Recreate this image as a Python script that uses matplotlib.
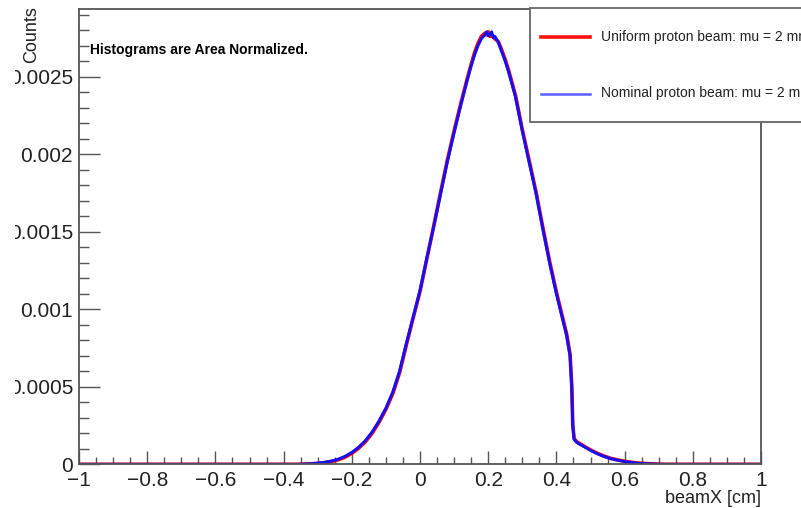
import matplotlib
matplotlib.use("Agg")
import matplotlib.pyplot as plt
from matplotlib.transforms import Bbox, TransformedBbox
from matplotlib.ticker import MultipleLocator, FixedLocator
import numpy as np

plt.rcParams['font.family'] = ['Liberation Sans', 'DejaVu Sans']
plt.rcParams['axes.unicode_minus'] = True

# ---- data ----
beam_x = [-1.0, -0.36, -0.34, -0.32, -0.30, -0.28, -0.26, -0.24, -0.22, -0.20,
          -0.18, -0.16, -0.14, -0.12, -0.10, -0.08, -0.06, -0.04, -0.02, 0.00,
          0.02, 0.04, 0.06, 0.08, 0.10, 0.12, 0.14, 0.15, 0.16, 0.17,
          0.18, 0.19, 0.195, 0.20, 0.205, 0.21, 0.215, 0.22, 0.23, 0.24,
          0.25, 0.26, 0.27, 0.28, 0.30, 0.32, 0.34, 0.36, 0.38, 0.40,
          0.42, 0.43, 0.44, 0.445, 0.448, 0.452, 0.46, 0.48, 0.50, 0.52,
          0.54, 0.56, 0.58, 0.60, 0.62, 0.64, 0.66, 0.68, 0.70, 0.72, 1.0]

nominal = [0.0, 0.0, 0.002, 0.004, 0.008, 0.013, 0.021, 0.033, 0.051, 0.077,
           0.110, 0.153, 0.210, 0.280, 0.362, 0.465, 0.600, 0.780, 0.950, 1.120,
           1.330, 1.530, 1.740, 1.950, 2.140, 2.320, 2.490, 2.570, 2.640, 2.700,
           2.745, 2.770, 2.790, 2.765, 2.775, 2.790, 2.750, 2.760, 2.720, 2.660,
           2.600, 2.530, 2.450, 2.370, 2.150, 1.950, 1.750, 1.520, 1.300, 1.100,
           0.920, 0.830, 0.700, 0.500, 0.250, 0.160, 0.140, 0.115, 0.090, 0.068,
           0.050, 0.036, 0.026, 0.018, 0.012, 0.007, 0.004, 0.002, 0.001, 0.0, 0.0]

uniform = [0.0, 0.0, 0.001, 0.003, 0.006, 0.011, 0.018, 0.029, 0.046, 0.071,
           0.104, 0.146, 0.202, 0.272, 0.355, 0.455, 0.590, 0.770, 0.945, 1.115,
           1.325, 1.535, 1.750, 1.960, 2.150, 2.330, 2.500, 2.580, 2.655, 2.715,
           2.760, 2.780, 2.770, 2.790, 2.760, 2.770, 2.760, 2.745, 2.725, 2.670,
           2.610, 2.540, 2.460, 2.380, 2.160, 1.960, 1.760, 1.530, 1.310, 1.110,
           0.930, 0.840, 0.710, 0.510, 0.255, 0.165, 0.145, 0.118, 0.093, 0.071,
           0.053, 0.038, 0.028, 0.020, 0.013, 0.008, 0.005, 0.003, 0.001, 0.0, 0.0]

x_ticks = [-1, -0.8, -0.6, -0.4, -0.2, 0, 0.2, 0.4, 0.6, 0.8, 1]
x_tick_labels = ["\u22121", "\u22120.8", "\u22120.6", "\u22120.4", "\u22120.2",
                 "0", "0.2", "0.4", "0.6", "0.8", "1"]
y_ticks = [0, 0.0005, 0.001, 0.0015, 0.002, 0.0025]
y_tick_labels = ["0", "0.0005", "0.001", "0.0015", "0.002", "0.0025"]

legend_labels = ["Uniform proton beam: mu = 2 mm", "Nominal proton beam: mu = 2 mm"]

W, H = 801, 508
fig = plt.figure(figsize=(W / 100, H / 100), dpi=100)
fig.patch.set_facecolor('white')

ax_l, ax_r, ax_t, ax_b = 79, 761, 9, 464.3
ax = fig.add_axes([ax_l / W, (H - ax_b) / H, (ax_r - ax_l) / W, (ax_b - ax_t) / H])

xs = np.array(beam_x)
ax.plot(xs, np.array(uniform) * 1e-3, color='#ff0000', lw=2.6)
ax.plot(xs, np.array(nominal) * 1e-3, color='#1010ff', lw=2.1)

ax.set_xlim(-1, 1)
ax.set_ylim(0, 0.002937)

frame_col = '#555555'
for s in ax.spines.values():
    s.set_color(frame_col)
    s.set_linewidth(1.3)

ax.xaxis.set_major_locator(FixedLocator(x_ticks))
ax.set_xticklabels(x_tick_labels)
ax.xaxis.set_minor_locator(MultipleLocator(0.05))
ax.yaxis.set_major_locator(FixedLocator(y_ticks))
ax.set_yticklabels(y_tick_labels)
ax.yaxis.set_minor_locator(MultipleLocator(0.0001))

ax.tick_params(axis='x', which='major', direction='in', length=9.5, width=1.0,
               color=frame_col, labelsize=15, pad=4.5, top=False)
ax.tick_params(axis='x', which='minor', direction='in', length=5, width=1.0,
               color=frame_col, top=False)
ax.tick_params(axis='y', which='major', direction='in', length=15, width=1.0,
               color=frame_col, labelsize=15, pad=4.3, right=False)
ax.tick_params(axis='y', which='minor', direction='in', length=7.5, width=1.0,
               color=frame_col, right=False)
for lab in ax.get_xticklabels() + ax.get_yticklabels():
    lab.set_color('#222222')

# clip y tick labels at the left pad edge (as in the reference)
clip = TransformedBbox(Bbox([[15.5 / W, 0], [1, 1]]), fig.transFigure)
for lab in ax.get_yticklabels():
    lab.set_clip_on(True)
    lab.set_clip_box(clip)

# axis titles
fig.text(ax_r / W, (H - 503) / H, "beamX [cm]", ha='right', va='baseline',
         fontsize=13, color='#222222')
fig.text(31.5 / W, (H - 6) / H, "Counts", rotation=90, ha='center', va='top',
         fontsize=13, color='#222222')

# annotation
fig.text(90 / W, (H - 50) / H, "Histograms are Area Normalized.", ha='left',
         va='center', fontsize=10, fontweight='bold', color='black')

# legend box
leg_l, leg_t, leg_b = 530, 8, 122
box = plt.Rectangle((leg_l / W, (H - leg_b) / H), (W + 20 - leg_l) / W, (leg_b - leg_t) / H,
                    transform=fig.transFigure, facecolor='white', edgecolor='#666666',
                    lw=1.3, zorder=5)
fig.add_artist(box)
fig.add_artist(plt.Line2D([541 / W, 590 / W], [(H - 37) / H] * 2, transform=fig.transFigure,
                          color='#ff1010', lw=2.6, zorder=6))
fig.add_artist(plt.Line2D([541 / W, 590 / W], [(H - 93.5) / H] * 2, transform=fig.transFigure,
                          color='#5a5aff', lw=1.8, zorder=6))
fig.text(601 / W, (H - 37) / H, legend_labels[0], ha='left', va='center', fontsize=10,
         color='#222222', zorder=7)
fig.text(601 / W, (H - 93.5) / H, legend_labels[1], ha='left', va='center', fontsize=10,
         color='#222222', zorder=7)

fig.savefig("out.png", dpi=100, facecolor='white')
